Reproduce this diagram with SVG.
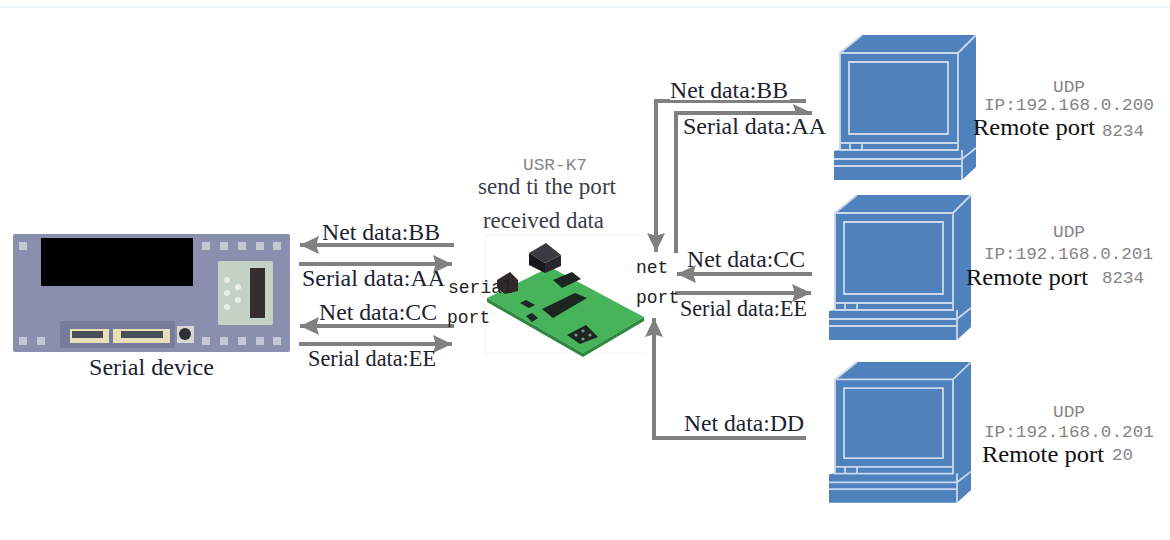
<svg xmlns="http://www.w3.org/2000/svg" xmlns:xlink="http://www.w3.org/1999/xlink" width="1170" height="540" viewBox="0 0 1170 540">
<style>
.l{font-family:"Liberation Serif",serif;font-size:23px;fill:#1c2230}
.m{font-family:"Liberation Mono",monospace;font-size:18px;fill:#222}
.g{font-family:"Liberation Mono",monospace;font-size:17px;fill:#858585}
.c{fill:none;stroke:#808080;stroke-width:4}
.pc{fill:#4f81bd}
.e{fill:none;stroke:#c9d8ea;stroke-width:1.8}
.sq{fill:#c5c7d3}
</style>
<defs>
<marker id="a" viewBox="0 0 10 10" refX="10" refY="5" markerUnits="userSpaceOnUse" markerWidth="19" markerHeight="18" orient="auto" preserveAspectRatio="none"><path d="M0 0L10 5L0 10L1.5 5Z" fill="#808080"/></marker>
<g id="computer">
<path class="pc" d="M6 18L28 0H142V132L128 145H0V116L6 115Z"/>
<path class="e" d="M6 18H124V115H6ZM6 18L28 0M124 18L142 0M15 27H114V99H15ZM6 108H124M16 108V115M28 108V115M0 124H128M0 131H128M128 115V145M128 124L142 113"/>
</g>
</defs>
<rect width="1170" height="540" fill="#fff"/>
<rect x="0" y="6" width="1170" height="2" fill="#eef3f8"/>

<g id="serial-device">
<rect x="13" y="234" width="277" height="118" rx="2" fill="#8a8fae"/>
<rect x="41" y="238" width="152" height="48" fill="#000"/>
<g class="sq"><rect x="19" y="242" width="8" height="8"/><rect x="202" y="242" width="8" height="8"/><rect x="220" y="242" width="8" height="8"/><rect x="238" y="242" width="8" height="8"/><rect x="256" y="242" width="8" height="8"/><rect x="273" y="242" width="8" height="8"/><rect x="19" y="337" width="8" height="8"/><rect x="37" y="337" width="8" height="8"/><rect x="202" y="337" width="8" height="8"/><rect x="220" y="337" width="8" height="8"/><rect x="238" y="337" width="8" height="8"/><rect x="256" y="337" width="8" height="8"/><rect x="273" y="337" width="8" height="8"/></g>
<rect x="218" y="261" width="55" height="64" rx="2" fill="#c3d2c5"/>
<rect x="250" y="268" width="15" height="50" fill="#352e2e"/>
<g fill="#e8eee8"><circle cx="227" cy="280" r="3"/><circle cx="238" cy="287" r="3"/><circle cx="227" cy="293" r="3"/><circle cx="238" cy="300" r="3"/><circle cx="227" cy="307" r="3"/></g>
<rect x="60" y="321" width="115" height="27" rx="2" fill="#777c9c"/>
<rect x="70" y="329" width="39" height="14" fill="#e6dfb8"/><rect x="72" y="331" width="31" height="7" fill="#4a4e58"/>
<rect x="113" y="329" width="57" height="14" fill="#e6dfb8"/><rect x="121" y="331" width="42" height="7" fill="#4a4e58"/>
<rect x="177" y="326" width="17" height="17" fill="#d8d8d0"/><circle cx="185" cy="334" r="6" fill="#2d3038"/>
<text class="l" x="89" y="375" textLength="125" lengthAdjust="spacingAndGlyphs">Serial device</text>
</g>

<g id="connectors">
<path class="c" marker-end="url(#a)" d="M454 245H300"/>
<path class="c" marker-end="url(#a)" d="M299 264H452"/>
<path class="c" marker-end="url(#a)" d="M454 326H300"/>
<path class="c" marker-end="url(#a)" d="M299 344H452"/>
<path class="c" marker-end="url(#a)" d="M806 101H656V252"/>
<path class="c" marker-end="url(#a)" d="M676 253V113H812"/>
<path class="c" marker-end="url(#a)" d="M812 274H677"/>
<path class="c" marker-end="url(#a)" d="M675 293H811"/>
<path class="c" marker-end="url(#a)" d="M806 438H654V318"/>
</g>

<g id="usr-k7">
<path d="M485 235H645M485 235V353H645" fill="none" stroke="#f4f4f4"/>
<path d="M487 298L550 267L644 317L583 353Z" fill="#47b35a"/>
<path d="M487 298L583 353L644 317V321L583 357L487 302Z" fill="#2f8a40"/>
<path d="M529 253L546 243L561 255L545 263Z" fill="#3a3a42"/>
<path d="M529 253L545 263V273L529 265Z" fill="#17171c"/>
<path d="M545 263L561 255V266L545 273Z" fill="#26262c"/>
<path d="M497 280L510 272L518 280V291L505 294L497 288Z" fill="#2e2a28"/>
<g fill="#1c2620"><path d="M553 280L572 272L581 279L562 288Z"/><path d="M542 309L575 293L587 298L553 318Z"/><path d="M520 303L526 300L535 305L529 308Z"/><path d="M526 316L532 313L538 318L532 322Z"/><path d="M567 335L586 325L598 337L580 344Z"/></g>
<g fill="#8a8f8a"><circle cx="576" cy="335" r="1.6"/><circle cx="583" cy="331" r="1.6"/><circle cx="583" cy="339" r="1.6"/><circle cx="590" cy="335" r="1.6"/></g>
<text class="g" x="523" y="170" textLength="64" lengthAdjust="spacingAndGlyphs">USR-K7</text>
<text class="l" x="478" y="194" textLength="138" lengthAdjust="spacingAndGlyphs" fill-opacity=".9">send ti the port</text>
<text class="l" x="483" y="228" textLength="121" lengthAdjust="spacingAndGlyphs" fill-opacity=".9">received data</text>
<text class="m" x="448" y="293">serial</text>
<text class="m" x="447" y="323">port</text>
<text class="m" x="636" y="273">net</text>
<text class="m" x="636" y="303">port</text>
</g>

<g id="edge-labels">
<rect x="670" y="76" width="120" height="24" fill="#fff"/>
<rect x="678" y="115" width="150" height="26" fill="#fff"/>
<text class="l" x="322" y="240" textLength="118" lengthAdjust="spacingAndGlyphs">Net data:BB</text>
<text class="l" x="302" y="286" textLength="143" lengthAdjust="spacingAndGlyphs">Serial data:AA</text>
<text class="l" x="319" y="320" textLength="118" lengthAdjust="spacingAndGlyphs">Net data:CC</text>
<text class="l" x="308" y="366" textLength="128" lengthAdjust="spacingAndGlyphs">Serial data:EE</text>
<text class="l" x="670" y="98" textLength="118" lengthAdjust="spacingAndGlyphs">Net data:BB</text>
<text class="l" x="683" y="134" textLength="143" lengthAdjust="spacingAndGlyphs">Serial data:AA</text>
<text class="l" x="687" y="267" textLength="118" lengthAdjust="spacingAndGlyphs">Net data:CC</text>
<text class="l" x="680" y="316" textLength="127" lengthAdjust="spacingAndGlyphs">Serial data:EE</text>
<text class="l" x="684" y="431" textLength="120" lengthAdjust="spacingAndGlyphs">Net data:DD</text>
</g>

<g id="remote-1">
<use href="#computer" xlink:href="#computer" x="834" y="35"/>
<text class="g" x="1053" y="92" textLength="32" lengthAdjust="spacingAndGlyphs">UDP</text>
<text class="g" x="984" y="110" textLength="170" lengthAdjust="spacingAndGlyphs">IP:192.168.0.200</text>
<text class="l" x="973" y="135" textLength="122" lengthAdjust="spacingAndGlyphs" style="fill:#111">Remote port</text>
<text class="g" x="1102" y="136" textLength="42" lengthAdjust="spacingAndGlyphs">8234</text>
</g>
<g id="remote-2">
<use href="#computer" xlink:href="#computer" x="829" y="195"/>
<text class="g" x="1053" y="237" textLength="32" lengthAdjust="spacingAndGlyphs">UDP</text>
<text class="g" x="984" y="259" textLength="169" lengthAdjust="spacingAndGlyphs">IP:192.168.0.201</text>
<text class="l" x="966" y="285" textLength="122" lengthAdjust="spacingAndGlyphs" style="fill:#111">Remote port</text>
<text class="g" x="1102" y="283" textLength="42" lengthAdjust="spacingAndGlyphs">8234</text>
</g>
<g id="remote-3">
<use href="#computer" xlink:href="#computer" transform="translate(829 362) scale(1 .97)"/>
<text class="g" x="1053" y="417" textLength="32" lengthAdjust="spacingAndGlyphs">UDP</text>
<text class="g" x="984" y="437" textLength="170" lengthAdjust="spacingAndGlyphs">IP:192.168.0.201</text>
<text class="l" x="982" y="462" textLength="122" lengthAdjust="spacingAndGlyphs" style="fill:#111">Remote port</text>
<text class="g" x="1112" y="460" textLength="21" lengthAdjust="spacingAndGlyphs">20</text>
</g>
</svg>
